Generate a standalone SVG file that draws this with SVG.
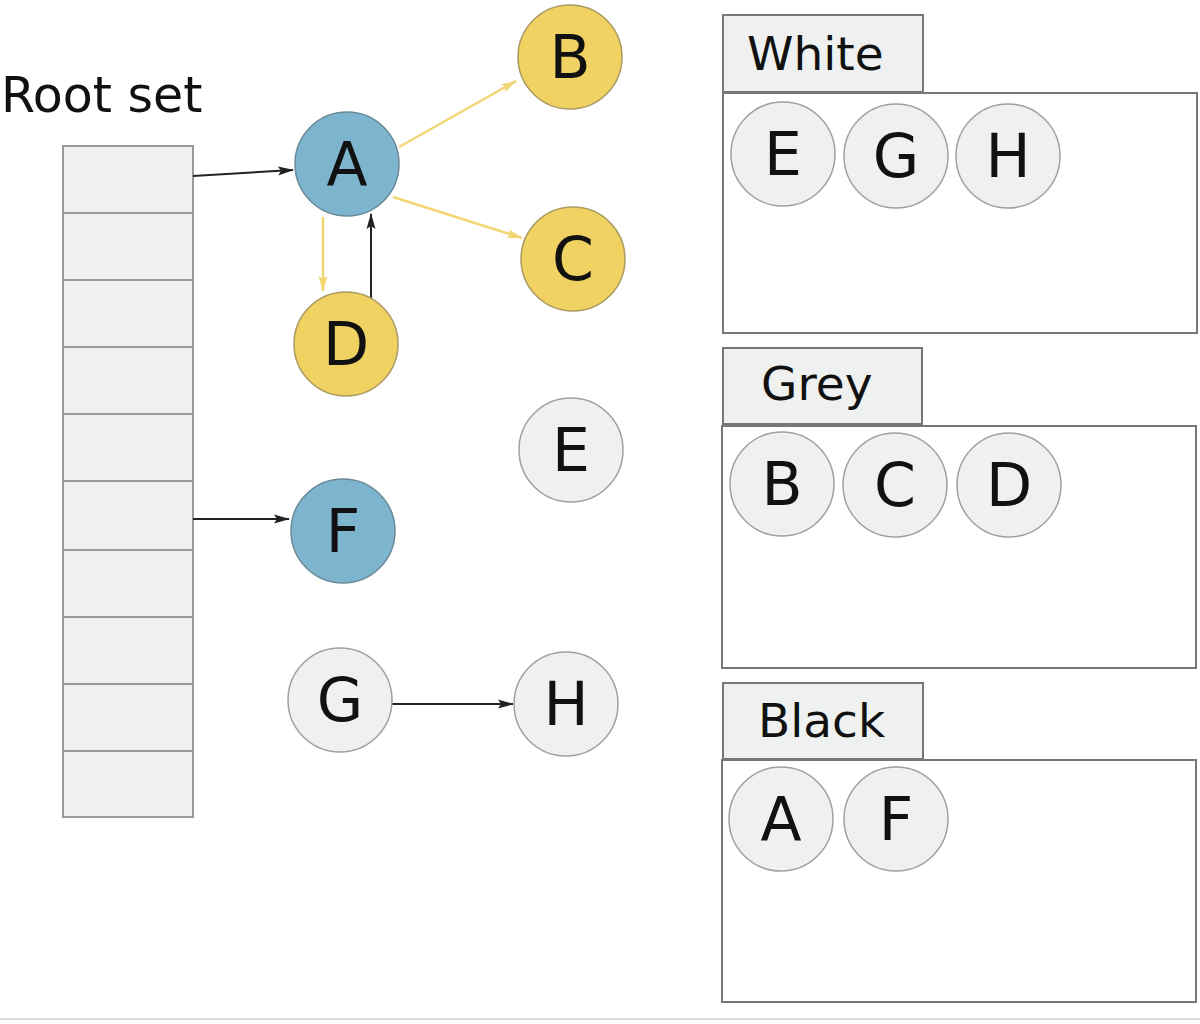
<svg xmlns="http://www.w3.org/2000/svg" width="1200" height="1024" viewBox="0 0 1200 1024">
<defs>
<style>
text{font-family:"DejaVu Sans","Verdana",sans-serif;fill:#111}
.lbl{font-size:47px}
.nt{font-size:60px;text-anchor:middle;dominant-baseline:central}
.cell{fill:#eff1f0;stroke:#9a9a9a;stroke-width:2}
.blue{fill:#7db5cf;stroke:#6a8a98;stroke-width:1.5}
.yel{fill:#f0d263;stroke:#a99a60;stroke-width:1.5}
.wht{fill:#eff1f0;stroke:#a0a0a0;stroke-width:1.5}
.tab{fill:#eff1f0;stroke:#777;stroke-width:2}
.box{fill:#fff;stroke:#777;stroke-width:2}
.k{stroke:#222;stroke-width:2;fill:none}
.y{stroke:#f2d675;stroke-width:2.5;fill:none}
</style>
<marker id="ak" markerWidth="16" markerHeight="12" refX="15" refY="6" orient="auto" markerUnits="userSpaceOnUse"><path d="M0,1.5 L16,6 L0,10.5 L3,6 Z" fill="#222"/></marker>
<marker id="ay" markerWidth="16" markerHeight="12" refX="15" refY="6" orient="auto" markerUnits="userSpaceOnUse"><path d="M0,1.5 L16,6 L0,10.5 L3,6 Z" fill="#f2d675"/></marker>
</defs>
<rect width="1200" height="1024" fill="#fff"/>
<line x1="0" y1="1019" x2="1200" y2="1019" stroke="#dddddd" stroke-width="2"/>
<g id="rootset">
<text x="1" y="112" style="font-size:49px">Root set</text>
<rect class="cell" x="63" y="146" width="130" height="67"/>
<rect class="cell" x="63" y="213" width="130" height="67"/>
<rect class="cell" x="63" y="280" width="130" height="67"/>
<rect class="cell" x="63" y="347" width="130" height="67"/>
<rect class="cell" x="63" y="414" width="130" height="67"/>
<rect class="cell" x="63" y="481" width="130" height="69"/>
<rect class="cell" x="63" y="550" width="130" height="67"/>
<rect class="cell" x="63" y="617" width="130" height="67"/>
<rect class="cell" x="63" y="684" width="130" height="67"/>
<rect class="cell" x="63" y="751" width="130" height="66"/>
</g>
<g id="connectors">
<line class="k" x1="193" y1="176" x2="293" y2="170" marker-end="url(#ak)"/>
<line class="k" x1="193" y1="519" x2="289" y2="519" marker-end="url(#ak)"/>
<line class="k" x1="392" y1="704" x2="513" y2="704" marker-end="url(#ak)"/>
<line class="k" x1="371" y1="298" x2="371" y2="214" marker-end="url(#ak)"/>
<line class="y" x1="323" y1="217" x2="323" y2="291" marker-end="url(#ay)"/>
<line class="y" x1="399" y1="147" x2="516" y2="81" marker-end="url(#ay)"/>
<line class="y" x1="393" y1="197" x2="522" y2="238" marker-end="url(#ay)"/>
</g>
<g id="node-A"><circle class="blue" cx="347" cy="164" r="52"/><text class="nt" x="347" y="164">A</text></g>
<g id="node-B"><circle class="yel" cx="570" cy="57" r="52"/><text class="nt" x="570" y="57">B</text></g>
<g id="node-C"><circle class="yel" cx="573" cy="259" r="52"/><text class="nt" x="573" y="259">C</text></g>
<g id="node-D"><circle class="yel" cx="346" cy="344" r="52"/><text class="nt" x="346" y="344">D</text></g>
<g id="node-E"><circle class="wht" cx="571" cy="450" r="52"/><text class="nt" x="571" y="450">E</text></g>
<g id="node-F"><circle class="blue" cx="343" cy="531" r="52"/><text class="nt" x="343" y="531">F</text></g>
<g id="node-G"><circle class="wht" cx="340" cy="700" r="52"/><text class="nt" x="340" y="700">G</text></g>
<g id="node-H"><circle class="wht" cx="566" cy="704" r="52"/><text class="nt" x="566" y="704">H</text></g>
<g id="set-white">
<rect class="tab" x="723" y="15" width="200" height="77"/>
<text class="lbl" x="747" y="70">White</text>
<rect class="box" x="723" y="93" width="474" height="240"/>
<circle class="wht" cx="783" cy="154" r="52"/><text class="nt" x="783" y="154">E</text>
<circle class="wht" cx="896" cy="156" r="52"/><text class="nt" x="896" y="156">G</text>
<circle class="wht" cx="1008" cy="156" r="52"/><text class="nt" x="1008" y="156">H</text>
</g>
<g id="set-grey">
<rect class="tab" x="723" y="348" width="199" height="76"/>
<text class="lbl" x="761" y="400">Grey</text>
<rect class="box" x="722" y="426" width="474" height="242"/>
<circle class="wht" cx="782" cy="484" r="52"/><text class="nt" x="782" y="484">B</text>
<circle class="wht" cx="895" cy="485" r="52"/><text class="nt" x="895" y="485">C</text>
<circle class="wht" cx="1009" cy="485" r="52"/><text class="nt" x="1009" y="485">D</text>
</g>
<g id="set-black">
<rect class="tab" x="723" y="683" width="200" height="76"/>
<text class="lbl" x="758" y="737">Black</text>
<rect class="box" x="722" y="760" width="474" height="242"/>
<circle class="wht" cx="781" cy="819" r="52"/><text class="nt" x="781" y="819">A</text>
<circle class="wht" cx="896" cy="819" r="52"/><text class="nt" x="896" y="819">F</text>
</g>
</svg>
